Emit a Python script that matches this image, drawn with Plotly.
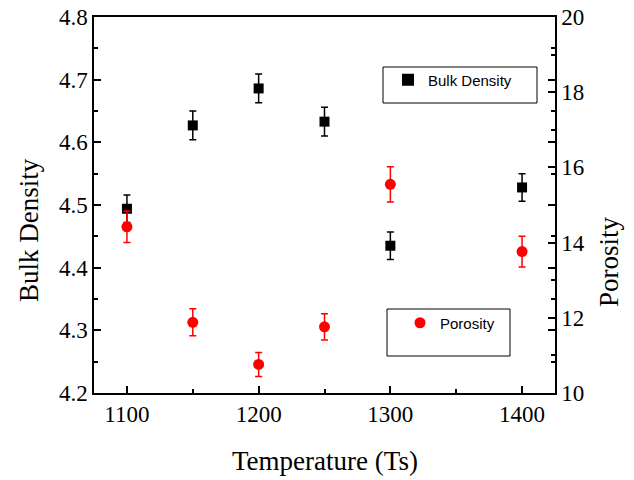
import plotly.graph_objects as go

temperature = [1100, 1150, 1200, 1250, 1300, 1400]
bulk_density = [4.494, 4.627, 4.686, 4.633, 4.435, 4.528]
bulk_err = [0.022, 0.023, 0.023, 0.023, 0.022, 0.022]
porosity = [14.42, 11.88, 10.76, 11.76, 15.55, 13.76]
porosity_err = [0.42, 0.36, 0.32, 0.35, 0.47, 0.41]

L, R, T, B = 94, 79, 17, 87
W, H = 634, 480
PW, PH = W - L - R, H - T - B

def px(x):
    return (x - L) / PW

def py(y):
    return (H - B - y) / PH

serif = "Liberation Serif"

fig = go.Figure()
fig.add_trace(go.Scatter(
    x=temperature, y=bulk_density, mode="markers", name="Bulk Density",
    marker=dict(symbol="square", size=10, color="black"),
    error_y=dict(type="data", array=bulk_err, color="black", thickness=1.5, width=3.5),
    legend="legend", yaxis="y", showlegend=True,
))
fig.add_trace(go.Scatter(
    x=temperature, y=porosity, mode="markers", name="Porosity",
    marker=dict(symbol="circle", size=11, color="#ff0000"),
    error_y=dict(type="data", array=porosity_err, color="#ff0000", thickness=1.5, width=3.5),
    legend="legend2", yaxis="y2", showlegend=True,
))

axis_common = dict(
    showline=True, linecolor="black", linewidth=1.5, ticks="inside",
    ticklen=7, tickwidth=1.5, tickcolor="black", showgrid=False, zeroline=False,
    automargin=False,
    tickfont=dict(family=serif, size=23, color="black"),
)

fig.update_layout(
    width=W, height=H,
    margin=dict(l=L, r=R, t=T, b=B, autoexpand=False),
    showlegend=True,
    paper_bgcolor="white", plot_bgcolor="white",
    xaxis=dict(range=[1075, 1425], tickmode="linear", tick0=1100, dtick=100,
               mirror=True,
               minor=dict(ticks="inside", ticklen=4, tickwidth=1.5, tickcolor="black", dtick=50, tick0=1100),
               **axis_common),
    yaxis=dict(range=[4.2, 4.8], tickmode="linear", tick0=4.2, dtick=0.1, tickformat=".1f",
               mirror="ticks",
               minor=dict(ticks="inside", ticklen=4, tickwidth=1.5, tickcolor="black", dtick=0.05, tick0=4.2),
               **axis_common),
    yaxis2=dict(range=[10, 20], tickmode="linear", tick0=10, dtick=2, overlaying="y", side="right",
                minor=dict(ticks="inside", ticklen=4, tickwidth=1.5, tickcolor="black", dtick=1, tick0=10),
                **axis_common),
    legend=dict(x=px(388), y=py(80), xanchor="left", yanchor="middle",
                bgcolor="rgba(0,0,0,0)", borderwidth=0, itemsizing="constant",
                font=dict(family="Liberation Sans", size=15, color="black")),
    legend2=dict(x=px(400), y=py(323), xanchor="left", yanchor="middle",
                 bgcolor="rgba(0,0,0,0)", borderwidth=0,
                 font=dict(family="Liberation Sans", size=15, color="black")),
    shapes=[
        dict(type="rect", xref="paper", yref="paper", x0=px(383), x1=px(537), y0=py(103), y1=py(67),
             line=dict(color="black", width=1)),
        dict(type="rect", xref="paper", yref="paper", x0=px(387), x1=px(510), y0=py(356), y1=py(309),
             line=dict(color="black", width=1)),
    ],
    annotations=[
        dict(text="Temperature (Ts)", xref="paper", yref="paper", x=px(325), y=py(461),
             showarrow=False, font=dict(family=serif, size=27, color="black"),
             xanchor="center", yanchor="middle"),
        dict(text="Bulk Density", xref="paper", yref="paper", x=px(29), y=py(230),
             showarrow=False, textangle=-90, font=dict(family=serif, size=27, color="black"),
             xanchor="center", yanchor="middle"),
        dict(text="Porosity", xref="paper", yref="paper", x=px(609), y=py(262),
             showarrow=False, textangle=-90, font=dict(family=serif, size=27, color="black"),
             xanchor="center", yanchor="middle"),
    ],
)

fig.write_html("out.html")
